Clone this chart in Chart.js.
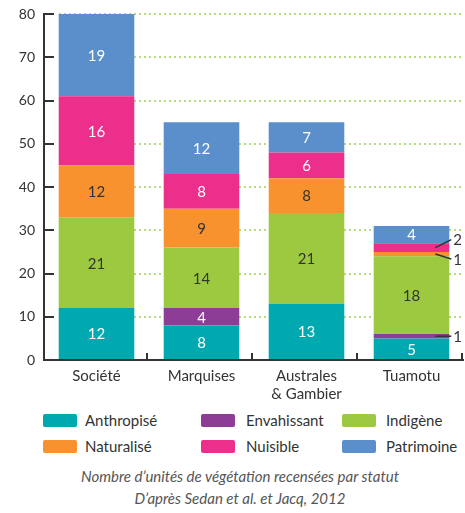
<!DOCTYPE html>
<html>
<head>
<meta charset="utf-8">
<script src="https://cdn.jsdelivr.net/npm/chart.js@4.4.1/dist/chart.umd.min.js"></script>
<style>
  body { margin: 0; background: #fff; font-family: Lato, "Open Sans", sans-serif; }
  #wrap { position: relative; width: 465px; height: 513px; }
  #legend { position: absolute; left: 0; top: 411px; width: 465px; }
  .item { position: absolute; font-size: 15px; color: #333; line-height: 18px; }
  .box { position: absolute; width: 34px; height: 13px; border-radius: 2px; top: 3px; }
  #caption { position: absolute; left: 0; top: 465px; width: 480px; text-align: center;
    font-style: italic; font-size: 15px; color: #555; line-height: 22px; }
</style>
</head>
<body>
<div id="wrap">
  <canvas id="myChart" width="465" height="405"></canvas>
  <div id="legend"></div>
  <div id="caption">Nombre d’unités de végétation recensées par statut<br>D’après Sedan et al. et Jacq, 2012</div>
</div>
<script>
const categories = ["Société", "Marquises", ["Australes", "& Gambier"], "Tuamotu"];
const seriesNames = ["Anthropisé", "Envahissant", "Indigène", "Naturalisé", "Nuisible", "Patrimoine"];
const anthropise = [12, 8, 13, 5];
const envahissant = [0, 4, 0, 1];
const indigene = [21, 14, 21, 18];
const naturalise = [12, 9, 8, 1];
const nuisible = [16, 8, 6, 2];
const patrimoine = [19, 12, 7, 4];
const yTicks = [0, 10, 20, 30, 40, 50, 60, 70, 80];

const colors = ["#00a9b0", "#8e3d96", "#9cc93f", "#f7922f", "#ec2f8b", "#5b8fcb"];
const labelColors = ["#fff", "#fff", "#333", "#333", "#fff", "#fff"];
const values = [anthropise, envahissant, indigene, naturalise, nuisible, patrimoine];

// small values get a label outside the bar with a leader line (vertical shift per series)
const leaderShift = { "Envahissant": 0, "Naturalisé": 5, "Nuisible": -8 };

const labelsPlugin = {
  id: 'segLabels',
  afterDatasetsDraw(chart) {
    const ctx = chart.ctx;
    ctx.save();
    ctx.font = '15px Lato, sans-serif';
    ctx.textBaseline = 'middle';
    chart.data.datasets.forEach((ds, i) => {
      chart.getDatasetMeta(i).data.forEach((bar, j) => {
        const v = ds.data[j];
        if (!v) return;
        const cy = (bar.y + bar.base) / 2;
        if (v >= 3) {
          ctx.fillStyle = labelColors[i];
          ctx.textAlign = 'center';
          ctx.fillText(String(v), bar.x, cy + 1);
        } else {
          const right = bar.x + bar.width / 2;
          const ly = cy + (leaderShift[ds.label] || 0);
          ctx.strokeStyle = '#333';
          ctx.lineWidth = 1.5;
          ctx.beginPath();
          ctx.moveTo(right - 14, cy);
          ctx.lineTo(right + 2, ly);
          ctx.stroke();
          ctx.fillStyle = '#333';
          ctx.textAlign = 'left';
          ctx.fillText(String(v), right + 4, ly + 1);
        }
      });
    });
    ctx.restore();
  }
};

const axesPlugin = {
  id: 'axesLines',
  afterDraw(chart) {
    const ctx = chart.ctx;
    const a = chart.chartArea;
    const y = chart.scales.y;
    ctx.save();
    // white out the grid next to the axis
    ctx.fillStyle = '#fff';
    ctx.fillRect(a.left, a.top - 2, 12, a.bottom - a.top);
    ctx.strokeStyle = '#333';
    ctx.lineWidth = 2;
    ctx.beginPath();
    ctx.moveTo(a.left, a.top - 1);
    ctx.lineTo(a.left, a.bottom);
    ctx.lineTo(a.right, a.bottom);
    ctx.stroke();
    ctx.beginPath();
    yTicks.forEach(t => {
      const py = Math.round(y.getPixelForValue(t));
      ctx.moveTo(a.left, py);
      ctx.lineTo(a.left + 10, py);
    });
    const step = (a.right - a.left) / categories.length;
    for (let k = 1; k <= categories.length; k++) {
      const px = Math.round(a.left + step * k) - 2;
      ctx.moveTo(px, a.bottom);
      ctx.lineTo(px, a.bottom - 7);
    }
    ctx.stroke();
    ctx.restore();
  }
};

new Chart(document.getElementById('myChart'), {
  type: 'bar',
  data: {
    labels: categories,
    datasets: seriesNames.map((name, i) => ({
      label: name,
      data: values[i],
      backgroundColor: colors[i],
      borderWidth: 0,
      barPercentage: 0.72,
      categoryPercentage: 1
    }))
  },
  options: {
    responsive: false,
    animation: false,
    devicePixelRatio: 1,
    layout: { padding: { top: 14, right: 1, left: 0, bottom: 0 } },
    plugins: { legend: { display: false }, tooltip: { enabled: false } },
    scales: {
      x: {
        stacked: true,
        grid: { display: false, drawTicks: false },
        border: { display: false },
        ticks: { color: '#333', font: { family: 'Lato', size: 15 }, padding: 7, maxRotation: 0 },
        afterFit: s => { s.height = 45; }
      },
      y: {
        stacked: true,
        min: 0,
        max: 80,
        afterBuildTicks: s => { s.ticks = yTicks.map(v => ({ value: v })); },
        grid: { color: '#b6da84', lineWidth: 2, drawTicks: false },
        border: { display: false, dash: [2, 3] },
        ticks: { color: '#333', font: { family: 'Lato', size: 14 }, padding: 9 },
        afterFit: s => { s.width = 44; s.paddingTop = 0; s.paddingBottom = 0; }
      }
    }
  },
  plugins: [labelsPlugin, axesPlugin]
});

// legend as 3 columns x 2 rows
const legend = document.getElementById('legend');
const colX = [43, 201, 342];
const textX = [85, 246, 386];
seriesNames.forEach((name, i) => {
  const col = i % 3, row = Math.floor(i / 3);
  const item = document.createElement('div');
  item.className = 'item';
  item.style.left = colX[col] + 'px';
  item.style.top = (row * 26) + 'px';
  item.innerHTML = '<span class="box" style="left:0;background:' + colors[i] + '"></span>' +
    '<span style="position:absolute;left:' + (textX[col] - colX[col]) + 'px;white-space:nowrap">' + name + '</span>';
  legend.appendChild(item);
});
</script>
</body>
</html>
